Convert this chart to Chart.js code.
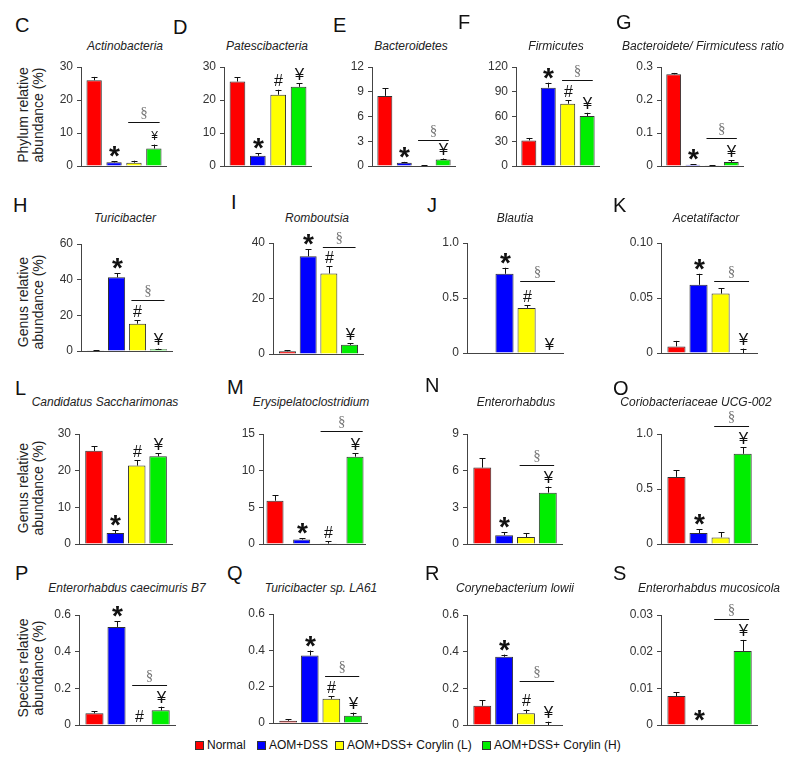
<!DOCTYPE html>
<html>
<head>
<meta charset="utf-8">
<script src="https://cdn.jsdelivr.net/npm/chart.js@4.4.0/dist/chart.umd.min.js"></script>
<style>
  body { margin: 0; background: #fff; }
  #page { position: relative; width: 795px; height: 762px; overflow: hidden; font-family: 'Liberation Sans', Arial, sans-serif; color: #111; }
  .abs { position: absolute; white-space: nowrap; }
  .letter { font-size: 20px; transform: translateY(-50%); }
  .ptitle { font-size: 12px; font-style: italic; color: #222; transform: translate(-50%, -50%); }
  .ytitle { font-size: 14px; line-height: 15px; text-align: center; color: #222; transform: translate(-50%, -50%) rotate(-90deg); }
  .leg { font-size: 12px; transform: translateY(-50%); display: flex; align-items: center; }
  .leg span.box { width: 7px; height: 7px; border: 1px solid #333; margin-right: 3px; display: inline-block; }
  canvas { position: absolute; }
</style>
</head>
<body>
<div id="page"></div>
<script>
// groups (legend order)
const groups = ['Normal', 'AOM+DSS', 'AOM+DSS+ Corylin (L)', 'AOM+DSS+ Corylin (H)'];
const groupColors = ['#ff0000', '#0000ff', '#ffff00', '#00ee00'];

// panels
const panelLetters = ['C', 'D', 'E', 'F', 'G', 'H', 'I', 'J', 'K', 'L', 'M', 'N', 'O', 'P', 'Q', 'R', 'S'];
const panelTitles = [
  'Actinobacteria', 'Patescibacteria', 'Bacteroidetes', 'Firmicutes', 'Bacteroidete/ Firmicutess ratio',
  'Turicibacter', 'Romboutsia', 'Blautia', 'Acetatifactor',
  'Candidatus Saccharimonas', 'Erysipelatoclostridium', 'Enterorhabdus', 'Coriobacteriaceae UCG-002',
  'Enterorhabdus caecimuris B7', 'Turicibacter sp. LA61', 'Corynebacterium lowii', 'Enterorhabdus mucosicola'
];
const yTickLabels = [
  ['0', '10', '20', '30'], ['0', '10', '20', '30'], ['0', '3', '6', '9', '12'], ['0', '30', '60', '90', '120'], ['0', '0.1', '0.2', '0.3'],
  ['0', '20', '40', '60'], ['0', '20', '40'], ['0', '0.5', '1.0'], ['0', '0.05', '0.10'],
  ['0', '10', '20', '30'], ['0', '5', '10', '15'], ['0', '3', '6', '9'], ['0', '0.5', '1.0'],
  ['0', '0.2', '0.4', '0.6'], ['0', '0.2', '0.4', '0.6'], ['0', '0.2', '0.4', '0.6'], ['0', '0.01', '0.02', '0.03']
];

// mean relative abundance per group
const means = [
  [26, 1.1, 1.0, 5.3], [25.6, 3.1, 21.6, 24.0], [8.5, 0.4, 0.05, 0.8], [31, 95, 75.5, 60.5], [0.278, 0.004, 0.002, 0.012],
  [0.2, 41.3, 15.3, 1.0], [1.0, 35.2, 29.0, 3.3], [0, 0.72, 0.41, 0], [0.006, 0.062, 0.054, 0],
  [25.4, 3.0, 21.4, 23.9], [5.9, 0.6, 0.05, 11.9], [6.25, 0.72, 0.57, 4.2], [0.61, 0.10, 0.06, 0.82],
  [0.064, 0.535, 0, 0.08], [0.012, 0.372, 0.133, 0.04], [0.105, 0.372, 0.064, 0], [0.0079, 0, 0, 0.0202]
];
// standard error (upper bar)
const errors = [
  [1.0, 0.4, 0.6, 1.2], [1.3, 0.7, 1.5, 1.1], [0.9, 0.1, 0.05, 0.1], [3, 6, 4.5, 4], [0.004, 0.002, 0.001, 0.005],
  [0.1, 2.4, 2.0, 0.3], [0.4, 2.6, 2.6, 0.6], [0, 0.055, 0.025, 0], [0.005, 0.010, 0.005, 0.004],
  [1.3, 0.8, 1.4, 0.9], [0.75, 0.2, 0.3, 0.45], [0.75, 0.25, 0.3, 0.5], [0.06, 0.035, 0.045, 0.06],
  [0.01, 0.03, 0, 0.02], [0.008, 0.027, 0.015, 0.017], [0.03, 0.012, 0.02, 0.018], [0.0011, 0, 0, 0.003]
];
// significance marks above each bar
const marks = [
  ['', '*', '', '¥'], ['', '*', '#', '¥'], ['', '*', '', '¥'], ['', '*', '#', '¥'], ['', '*', '', '¥'],
  ['', '*', '#', '¥'], ['', '*', '#', '¥'], ['', '*', '#', '¥'], ['', '*', '', '¥'],
  ['', '*', '#', '¥'], ['', '*', '#', '¥'], ['', '*', '', '¥'], ['', '*', '', '¥'],
  ['', '*', '#', '¥'], ['', '*', '#', '¥'], ['', '*', '#', '¥'], ['', '*', '', '¥']
];
// level of the § bracket between the two Corylin groups (null = none)
const sigLevels = [13.3, null, 3.1, 104, 0.085, 28.5, 38.4, 0.656, 0.0656, null, 15.4, 6.5, 1.07, 0.218, 0.257, 0.24, 0.0289];

const rowTitles = ['Phylum relative|abundance (%)', 'Genus relative|abundance (%)', 'Genus relative|abundance (%)', 'Species relative|abundance (%)'];

// ---- layout (pixels) ----
const panelBox = [ // [axis left, axis right, top tick y, zero y]
  [81, 166, 67, 166], [224, 311, 67, 166], [372, 455, 67, 166], [516, 599, 67, 166], [661, 743, 67, 166],
  [81, 172, 244, 351], [273, 363, 243, 354], [467, 563, 243, 353], [661, 757, 243, 353],
  [79, 172, 434, 544], [263, 365, 434, 544], [467, 562, 434, 544], [661, 757, 434, 544],
  [79, 175, 615, 725], [273, 367, 614, 723], [467, 562, 615, 725], [661, 757, 615, 725]
];
// x range [min, max, bar fraction]; panel M is laid out wider apart
const xLayout = panelLetters.map((l, p) => p < 5 ? [-0.66, 3.61, 0.77] : (l === 'M' ? [-0.45, 3.375, 0.64] : [-0.7, 3.65, 0.82]));
const titlePos = [
  [125, 46], [267, 46], [411, 46], [556, 46], [703, 46],
  [125, 218], [317, 218], [515, 218], [706, 218],
  [105, 402], [311, 402], [516, 402], [696, 402],
  [127, 588], [321, 588], [515, 588], [709, 588]
];
const letterPos = [
  [15, 25], [173, 27], [333, 25], [458, 22], [616, 22],
  [13, 205], [231, 202], [427, 205], [613, 205],
  [15, 388], [227, 387], [425, 385], [613, 388],
  [15, 573], [227, 573], [425, 573], [613, 573]
];
const rowTitleY = [115, 302, 488, 668];
const legendX = [195, 257, 335, 482];

const page = document.getElementById('page');
function addDiv(cls, text, x, y) {
  const d = document.createElement('div');
  d.className = 'abs ' + cls;
  d.style.left = x + 'px';
  d.style.top = y + 'px';
  d.innerHTML = text;
  page.appendChild(d);
  return d;
}

rowTitles.forEach((t, r) => addDiv('ytitle', t.replace('|', '<br>'), 31, rowTitleY[r]));

groups.forEach((g, i) => {
  addDiv('leg', '<span class="box" style="background:' + groupColors[i] + '"></span>' + g, legendX[i], 745);
});

// error bars, significance marks and § bracket
const annotate = {
  id: 'annotate',
  afterDatasetsDraw(chart, args, opts) {
    const p = opts.panel;
    const ctx = chart.ctx;
    const xs = chart.scales.x, ys = chart.scales.y;
    const step = xs.getPixelForValue(1) - xs.getPixelForValue(0);
    ctx.save();
    ctx.strokeStyle = '#111';
    ctx.lineWidth = 1;
    means[p].forEach((m, i) => {
      const x = Math.round(xs.getPixelForValue(i)) + 0.5;
      const e = errors[p][i];
      const top = ys.getPixelForValue(m + e);
      if (e > 0) {
        const y0 = ys.getPixelForValue(m);
        ctx.beginPath();
        ctx.moveTo(x, y0);
        ctx.lineTo(x, top);
        ctx.moveTo(x - 3, Math.round(top) + 0.5);
        ctx.lineTo(x + 3, Math.round(top) + 0.5);
        ctx.stroke();
      }
      const mk = marks[p][i];
      if (mk) {
        ctx.fillStyle = '#111';
        ctx.font = mk === '*' ? 'bold 28px "Liberation Sans"' : '17px "Liberation Sans"';
        if (mk === '#') ctx.font = '16px "Liberation Sans"';
        if (mk === '¥' && p === 0) ctx.font = '12px "Liberation Sans"';
        ctx.textAlign = 'center';
        ctx.textBaseline = 'alphabetic';
        const mt = ctx.measureText(mk);
        const cy = top - 9.5;
        ctx.fillText(mk, x, cy + (mt.actualBoundingBoxAscent - mt.actualBoundingBoxDescent) / 2);
      }
    });
    const lvl = sigLevels[p];
    if (lvl !== null) {
      const y = Math.round(ys.getPixelForValue(lvl)) + 0.5;
      const half = Math.min(step * 0.29, 11);
      const x1 = xs.getPixelForValue(2) - half;
      const x2 = xs.getPixelForValue(3) + half;
      ctx.beginPath();
      ctx.moveTo(x1, y);
      ctx.lineTo(x2, y);
      ctx.stroke();
      ctx.fillStyle = '#777';
      ctx.font = '15px "Liberation Serif"';
      ctx.textAlign = 'center';
      const mt = ctx.measureText('§');
      ctx.fillText('§', (x1 + x2) / 2, y - 10 + (mt.actualBoundingBoxAscent - mt.actualBoundingBoxDescent) / 2);
    }
    ctx.restore();
  }
};

const padTop = 42, padBottom = 16, padRight = 6, yAxisW = 45;

panelLetters.forEach((letter, p) => {
  addDiv('letter', letter, letterPos[p][0], letterPos[p][1]);
  addDiv('ptitle', panelTitles[p], titlePos[p][0], titlePos[p][1]);

  const [L, R, T, B] = panelBox[p];
  const [xMin, xMax, barFrac] = xLayout[p];
  const labels = yTickLabels[p];

  const canvas = document.createElement('canvas');
  canvas.width = R - L + yAxisW + padRight;
  canvas.height = B - T + padTop + padBottom;
  canvas.style.left = (L - yAxisW) + 'px';
  canvas.style.top = (T - padTop) + 'px';
  page.appendChild(canvas);

  new Chart(canvas, {
    type: 'bar',
    data: {
      datasets: [{
        label: letter,
        data: means[p].map((v, i) => ({ x: i, y: v })),
        backgroundColor: groupColors,
        borderColor: '#333',
        borderWidth: 1,
        categoryPercentage: 1,
        barPercentage: barFrac
      }]
    },
    options: {
      responsive: false,
      animation: false,
      devicePixelRatio: 1,
      layout: { padding: { top: padTop, bottom: padBottom, left: 0, right: padRight } },
      plugins: { legend: { display: false }, tooltip: { enabled: false }, annotate: { panel: p } },
      scales: {
        x: {
          type: 'linear',
          min: xMin,
          max: xMax,
          offset: false,
          afterBuildTicks: axis => { axis.ticks = [0, 1, 2, 3].map(v => ({ value: v })); },
          afterFit: axis => { axis.height = 0; },
          ticks: { display: false },
          grid: { display: false, drawTicks: false },
          border: { display: true, color: '#444', width: 1 }
        },
        y: {
          min: 0,
          max: parseFloat(labels[labels.length - 1]),
          afterBuildTicks: axis => { axis.ticks = labels.map(t => ({ value: parseFloat(t) })); },
          afterFit: axis => { axis.width = yAxisW; },
          ticks: {
            callback: (v, i) => labels[i],
            font: { family: 'Liberation Sans', size: 12 },
            color: '#333',
            padding: 4
          },
          grid: { drawOnChartArea: false, drawTicks: true, tickLength: 4, color: '#444' },
          border: { display: true, color: '#444', width: 1 }
        }
      }
    },
    plugins: [annotate]
  });
});
</script>
</body>
</html>
